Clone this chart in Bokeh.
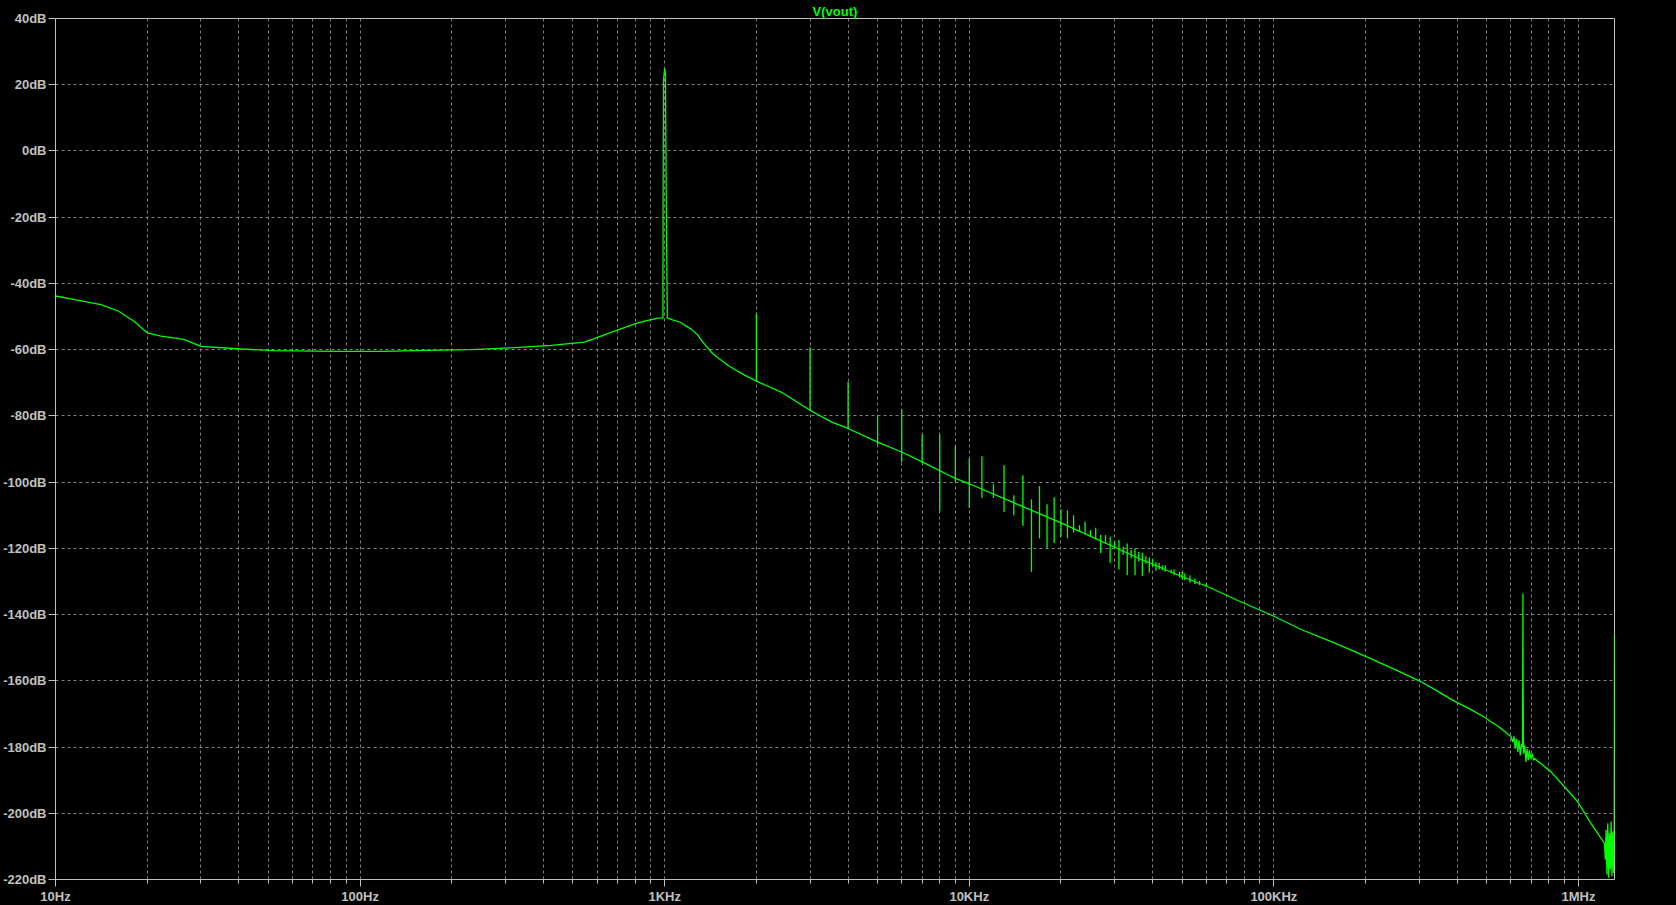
import math
from bokeh.plotting import figure
from bokeh.models import FixedTicker, Range1d, GlobalInlineStyleSheet
from bokeh.embed import file_html
from bokeh.resources import INLINE

# ---------------- data ----------------
title_text = "V(vout)"
x_tick_values = [10, 100, 1e3, 1e4, 1e5, 1e6]
x_tick_labels = ["10Hz", "100Hz", "1KHz", "10KHz", "100KHz", "1MHz"]
y_tick_values = [40, 20, 0, -20, -40, -60, -80, -100, -120, -140, -160, -180, -200, -220]
y_tick_labels = ["40dB", "20dB", "0dB", "-20dB", "-40dB", "-60dB", "-80dB", "-100dB",
                 "-120dB", "-140dB", "-160dB", "-180dB", "-200dB", "-220dB"]

trace_freq = [10, 11, 14.1, 16.1, 18.1, 20, 22.2, 26.4, 30, 40.7, 52.4, 82.4, 120, 162.7,
              231.6, 321, 424, 545, 590, 702, 816, 858, 903, 950, 987, 988, 991, 1000,
              1006, 1012, 1020, 1060, 1132, 1161, 1222, 1285, 1318, 1421, 1458, 1630,
              1828, 2000, 2413, 3000, 3521, 4000, 5000, 6000, 7000, 9000, 10000, 20000,
              36600, 47200, 60700, 78100, 100000, 122900, 160000, 200000, 250000, 300000,
              340000, 382000, 450000, 491000, 550000, 601000, 608000, 614000, 620000,
              626000, 632000, 638000, 644000, 650000, 655000, 656000, 657000, 658000,
              660000, 666000, 672000, 678000, 684000, 690000, 697000, 705000, 712000,
              718000, 813000, 899000, 995000, 1100000, 1217000, 1225000, 1232000, 1240000,
              1248000, 1256000, 1264000, 1272000, 1280000, 1288000, 1296000, 1304000,
              1310000, 1313000]
trace_db = [-43.8, -44.5, -46.4, -48.4, -51.4, -54.9, -55.9, -56.9, -59.0, -59.8, -60.3,
            -60.5, -60.5, -60.2, -60.0, -59.4, -58.7, -57.7, -56.6, -54.0, -51.9, -51.4,
            -50.9, -50.5, -50.4, -16.1, 21.6, 24.9, 22.9, -16.1, -50.4, -51.0, -51.8,
            -52.6, -53.8, -55.6, -57.1, -60.7, -61.7, -65.0, -67.7, -69.5, -72.8, -78.3,
            -81.8, -83.8, -87.9, -90.9, -93.9, -98.9, -100.5, -112.3, -123.3, -127.6,
            -131.6, -136.2, -140.5, -144.5, -148.8, -152.6, -156.6, -160.0, -162.8,
            -165.6, -169.0, -171.0, -174.0, -176.9, -178.5, -176.8, -180.5, -177.5,
            -181.5, -178.0, -182.5, -179.0, -180.0, -160.3, -133.6, -160.3, -182.0,
            -179.5, -184.5, -180.5, -184.0, -181.0, -183.5, -182.0, -184.0, -183.5,
            -187.5, -192.0, -196.6, -203.1, -209.1, -214.0, -205.0, -218.5, -203.0,
            -219.5, -206.0, -217.0, -202.5, -219.0, -205.5, -218.0, -210.0, -146.2]

harm_freq = [2000, 3000, 4000, 5000, 6000, 7000, 8000, 9000, 10000, 11000, 12000, 13000,
             14000, 15000, 16000, 17000, 18000, 19000, 20000, 21000, 22000, 23000, 24000,
             25000, 26000, 27000, 28000, 29000, 30000, 31000, 32000, 33000, 34000, 35000,
             36000, 37000, 38000, 39000, 40000, 41000, 42000, 43000, 44000, 46000, 47000,
             49000, 50000, 51000, 53000, 55000, 57000, 60000]
harm_top = [-49.1, -59.3, -69.7, -80.0, -78.1, -85.6, -85.6, -89.1, -92.9, -92.2, -100.6,
            -94.9, -104.0, -97.9, -105.2, -101.2, -106.7, -104.6, -108.2, -108.5, -110.0,
            -113.0, -112.0, -114.5, -113.8, -116.0, -116.0, -116.5, -118.0, -117.5, -119.5,
            -118.5, -120.5, -120.0, -121.0, -121.3, -122.4, -122.8, -123.3, -124.1, -124.4,
            -125.1, -125.1, -126.4, -126.4, -127.1, -127.1, -127.6, -128.1, -129.1, -129.9,
            -130.6]
harm_bottom = [-69.5, -78.3, -83.8, -88.7, -93.9, -94.3, -108.8, -99.9, -107.8, -104.8,
               -104.8, -109.0, -110.0, -113.2, -127.1, -117.0, -120.0, -118.4, -116.5,
               -117.0, -115.2, -115.0, -115.7, -116.5, -117.3, -121.4, -118.5, -124.4,
               -120.0, -126.4, -122.0, -128.1, -123.0, -128.1, -124.0, -128.3, -124.6,
               -127.4, -125.6, -126.8, -126.4, -126.6, -127.1, -127.6, -128.1, -128.8,
               -129.4, -129.6, -130.4, -130.8, -131.1, -131.6]

x_min, x_max = 10, 1.313e6
y_min, y_max = -220, 40

# ---------------- style ----------------
GREEN = "#00ff00"
AXIS = "#c0c0c0"
GRID = "#808080"
FONT = "Liberation Sans"

p = figure(x_axis_type="log",
           x_range=Range1d(x_min, x_max), y_range=Range1d(y_min, y_max),
           frame_width=1559, frame_height=861,
           min_border_left=54, min_border_right=63, min_border_top=18, min_border_bottom=26,
           output_backend="svg", toolbar_location=None,
           background_fill_color="black", border_fill_color="black",
           outline_line_color=AXIS, outline_line_width=1,
           title=title_text, title_location="above")

p.title.align = "center"
p.title.text_color = GREEN
p.title.text_font = FONT
p.title.text_font_size = "13px"
p.title.text_font_style = "bold"
p.title.standoff = 0
p.title.offset = 0

p.stylesheets = [GlobalInlineStyleSheet(
    css="html,body{margin:0 !important;padding:0;background:#000;overflow:hidden;}")]

minor = [k * 10 ** d for d in range(1, 7) for k in range(2, 10) if k * 10 ** d <= x_max]
p.xaxis.ticker = FixedTicker(ticks=x_tick_values, minor_ticks=minor)
p.xaxis.major_label_overrides = {v: s for v, s in zip(x_tick_values, x_tick_labels)}
p.yaxis.ticker = FixedTicker(ticks=y_tick_values)
p.yaxis.major_label_overrides = {v: s for v, s in zip(y_tick_values, y_tick_labels)}

for ax in (p.xaxis[0], p.yaxis[0]):
    ax.axis_line_color = AXIS
    ax.major_tick_line_color = AXIS
    ax.major_tick_in = 0
    ax.major_tick_out = 7
    ax.major_label_text_color = AXIS
    ax.major_label_text_font = FONT
    ax.major_label_text_font_size = "13px"
    ax.major_label_text_font_style = "bold"
p.xaxis.minor_tick_line_color = AXIS
p.xaxis.minor_tick_in = 0
p.xaxis.minor_tick_out = 4
p.xaxis.major_label_standoff = 2
p.yaxis.minor_tick_line_color = None
p.yaxis.major_label_standoff = 2

p.xgrid.grid_line_color = GRID
p.xgrid.grid_line_dash = "3 3"
p.xgrid.minor_grid_line_color = GRID
p.xgrid.minor_grid_line_dash = "3 3"
p.ygrid.grid_line_color = GRID
p.ygrid.grid_line_dash = "3 3"

p.line(trace_freq, trace_db, line_color=GREEN, line_width=1.3)
p.segment(x0=harm_freq, y0=harm_bottom, x1=harm_freq, y1=harm_top,
          line_color=GREEN, line_width=1.3)

open("out.html", "w").write(file_html(p, INLINE))
